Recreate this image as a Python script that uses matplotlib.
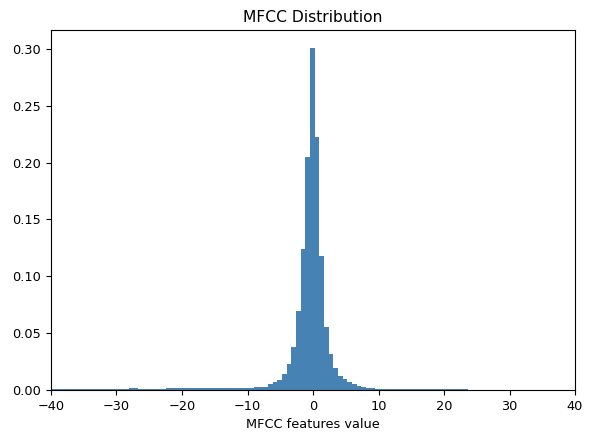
import numpy as np
import matplotlib
matplotlib.use('Agg')
import matplotlib.pyplot as plt

# histogram bins: 100 bins of width 0.71 starting at -47.31
bin_start = -47.31
bin_width = 0.71
n_bins = 100

# density per bin
density = (
    [0.0005] * 14            # bins 0-13
    + [0.001] * 3            # 14-16
    + [0.0005] * 2           # 17-18
    + [0.001] * 8            # 19-26
    + [0.0018] * 2           # 27-28
    + [0.0008] * 6           # 29-34
    + [0.0015] * 19          # 35-53
    + [0.003] * 3            # 54-56
    + [0.005, 0.0068, 0.0088, 0.0138, 0.0226, 0.038, 0.0695,
       0.124, 0.205, 0.301, 0.2227, 0.118, 0.0557, 0.032,
       0.0193, 0.0126, 0.0094, 0.0069, 0.005, 0.0038, 0.0028]  # 57-77
    + [0.002] * 2            # 78-79
    + [0.0011] * 4           # 80-83
    + [0.0006] * 16          # 84-99
)

edges = bin_start + bin_width * np.arange(n_bins + 1)
centers = (edges[:-1] + edges[1:]) / 2

plt.rcParams['font.size'] = 9.3

fig = plt.figure(figsize=(5.89, 4.32), dpi=100)
ax = fig.add_axes([51 / 589, 1 - 390 / 432, 524 / 589, 360 / 432])

# weights trick so hist draws the read densities
ax.hist(centers, bins=edges, weights=density, color='steelblue')
ax.set_xlim(-40, 40)
ax.set_ylim(0, 0.3166)
ax.set_yticks([0.0, 0.05, 0.10, 0.15, 0.20, 0.25, 0.30])
ax.set_xlabel('MFCC features value', fontsize=9.3)
ax.set_title('MFCC Distribution', fontsize=11.2)

fig.savefig('out.png', dpi=100)
